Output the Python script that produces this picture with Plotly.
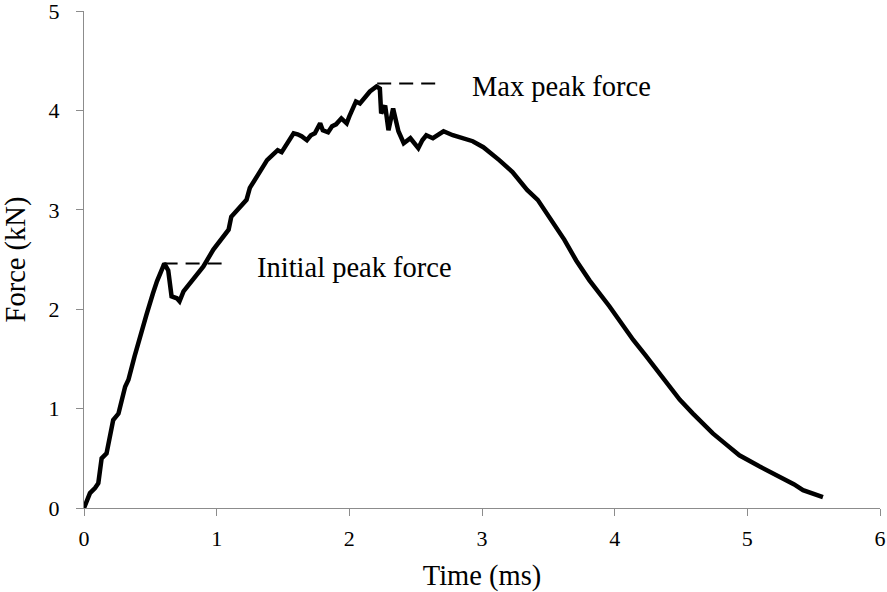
import plotly.graph_objects as go

time_ms = [0.0, 0.045, 0.083, 0.108, 0.133, 0.17, 0.22, 0.26, 0.31, 0.335, 0.38, 0.42, 0.47, 0.52, 0.55,
           0.60, 0.605, 0.635, 0.66, 0.70, 0.72, 0.75, 0.82, 0.90, 0.975, 1.05, 1.09, 1.11, 1.175,
           1.225, 1.25, 1.33, 1.38, 1.42, 1.46, 1.49, 1.53, 1.58, 1.61, 1.64, 1.68, 1.71, 1.74, 1.78, 1.80, 1.84,
           1.87, 1.90, 1.94, 1.98, 2.00, 2.05, 2.08, 2.12, 2.155, 2.205, 2.23, 2.24, 2.27, 2.295, 2.33, 2.37,
           2.41, 2.46, 2.49, 2.52, 2.55, 2.58, 2.63, 2.71, 2.78, 2.86, 2.93, 3.01, 3.07, 3.13, 3.23, 3.34, 3.42,
           3.54, 3.62, 3.71, 3.81, 3.96, 4.05, 4.14, 4.23, 4.32, 4.40, 4.49, 4.59, 4.66, 4.74, 4.84, 4.94,
           5.09, 5.18, 5.27, 5.35, 5.42, 5.57]
force_kn = [0.0, 0.15, 0.2, 0.25, 0.5, 0.55, 0.885, 0.95, 1.22, 1.29, 1.52, 1.72, 1.94, 2.16, 2.28,
            2.44, 2.46, 2.39, 2.13, 2.11, 2.08, 2.18, 2.29, 2.43, 2.6, 2.73, 2.80, 2.93, 3.03,
            3.10, 3.22, 3.40, 3.50, 3.55, 3.60, 3.58, 3.67, 3.77, 3.76, 3.74, 3.70, 3.75, 3.77, 3.87, 3.80, 3.78,
            3.84, 3.86, 3.92, 3.87, 3.94, 4.09, 4.07, 4.14, 4.19, 4.24, 4.22, 3.97, 4.05, 3.80, 4.02, 3.79,
            3.67, 3.72, 3.66, 3.62, 3.70, 3.75, 3.72, 3.79, 3.75, 3.72, 3.69, 3.63, 3.57, 3.50, 3.38, 3.20, 3.10,
            2.86, 2.70, 2.49, 2.29, 2.03, 1.86, 1.69, 1.54, 1.39, 1.24, 1.09, 0.95, 0.86, 0.75, 0.64, 0.53,
            0.42, 0.36, 0.30, 0.24, 0.18, 0.11]

initial_peak_x = [0.6, 1.07]
initial_peak_y = [2.46, 2.46]
max_peak_x = [2.21, 2.69]
max_peak_y = [4.27, 4.27]

labels = ["Initial peak force", "Max peak force"]
label_x = [1.29, 2.91]
label_y = [2.42, 4.24]

x_ticks = [0, 1, 2, 3, 4, 5, 6]
y_ticks = [0, 1, 2, 3, 4, 5]

FONT = "Liberation Serif, Times New Roman, serif"

fig = go.Figure()
fig.add_trace(go.Scatter(x=time_ms, y=force_kn, mode="lines",
                         line=dict(color="black", width=4.5), showlegend=False))
fig.add_trace(go.Scatter(x=initial_peak_x, y=initial_peak_y, mode="lines",
                         line=dict(color="black", width=2, dash="14px,8px"), showlegend=False))
fig.add_trace(go.Scatter(x=max_peak_x, y=max_peak_y, mode="lines",
                         line=dict(color="black", width=2, dash="14px,8px"), showlegend=False))

for t, x, y in zip(labels, label_x, label_y):
    fig.add_annotation(x=x, y=y, text=t, showarrow=False, xanchor="left",
                       font=dict(family=FONT, size=28.5, color="black"))

axis_common = dict(showgrid=False, zeroline=False, showline=True, linecolor="#8c8c8c",
                   linewidth=1, ticks="outside", ticklen=7, tickcolor="#8c8c8c",
                   ticklabeloverflow="allow",
                   tickfont=dict(family=FONT, size=22, color="black"))

fig.update_xaxes(range=[0, 6], tickvals=x_ticks, ticklabelstandoff=4,
                 title=dict(text="Time (ms)", font=dict(family=FONT, size=28.5, color="black"), standoff=14),
                 **axis_common)
fig.update_yaxes(range=[0, 5], tickvals=y_ticks, ticklabelstandoff=12,
                 title=dict(text="Force (kN)", font=dict(family=FONT, size=28.5, color="black"), standoff=22),
                 **axis_common)

fig.update_layout(width=887, height=592, margin=dict(l=84, r=7, t=11, b=84, autoexpand=False),
                  plot_bgcolor="white", paper_bgcolor="white")
fig.write_html("out.html")
